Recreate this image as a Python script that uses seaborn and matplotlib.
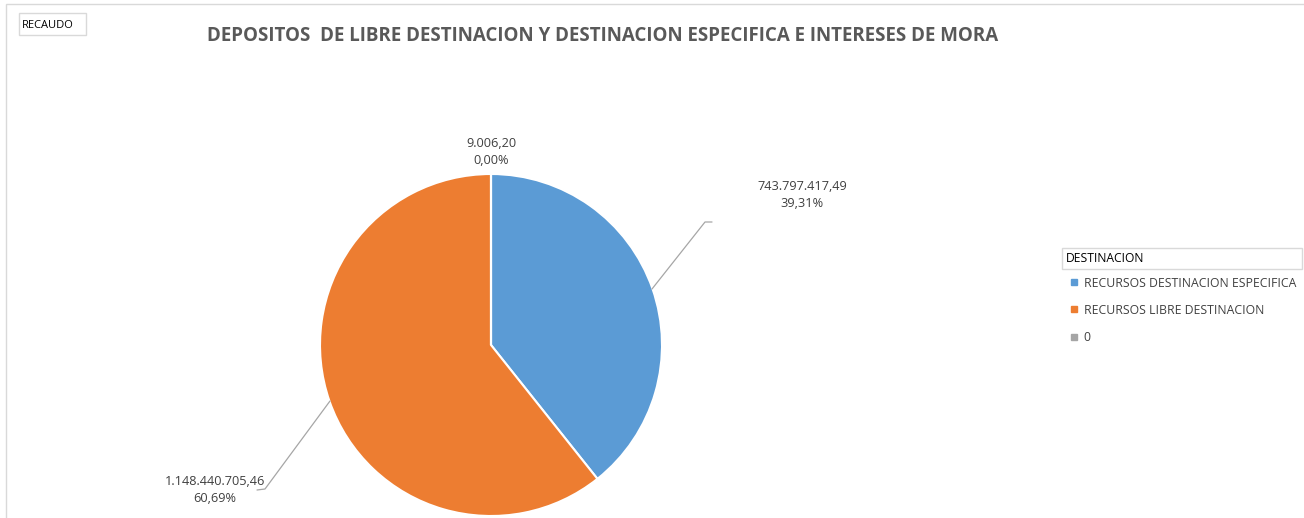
import matplotlib
matplotlib.use("Agg")
import matplotlib.pyplot as plt
import seaborn as sns
from matplotlib.patches import Rectangle
from matplotlib.lines import Line2D

# data
categorias = ["RECURSOS DESTINACION ESPECIFICA", "RECURSOS LIBRE DESTINACION", "0"]
valores = [743797417.49, 1148440705.46, 9006.20]
etiquetas_valor = ["743.797.417,49", "1.148.440.705,46", "9.006,20"]
etiquetas_pct = ["39,31%", "60,69%", "0,00%"]
colores = ["#5B9BD5", "#ED7D31", "#A5A5A5"]

sns.set_theme(style="white")
plt.rcParams["font.family"] = ["Open Sans", "DejaVu Sans"]

W, H = 1304, 518
fig = plt.figure(figsize=(W / 100, H / 100), dpi=100)

# pie axes: centre (491,345) px, radius 171 px
cx, cy, r = 491, 345, 171
ax = fig.add_axes([(cx - r) / W, (H - cy - r) / H, 2 * r / W, 2 * r / H])
wedges, _ = ax.pie(valores, colors=colores, startangle=90, counterclock=False,
                   radius=1, wedgeprops=dict(edgecolor="white", linewidth=1.5))
ax.set_xlim(-1, 1)
ax.set_ylim(-1, 1)
ax.set_aspect("auto")
ax.axis("off")


def px(x, y):
    return ((x - cx) / r, (cy - y) / r)


txt_col = "#404040"
line_col = "#A6A6A6"
# label positions (pixel coordinates of text centres and leader lines)
pos_texto = [(802, 195), (215, 490), (491, 152)]
lineas = [[(652, 289), (705, 222), (712, 222)],
          [(330, 401), (265, 489), (257, 490)],
          None]
for i in range(3):
    tx, ty = px(*pos_texto[i])
    ax.text(tx, ty, etiquetas_valor[i] + "\n" + etiquetas_pct[i], ha="center", va="center",
            fontsize=9.2, color=txt_col, linespacing=1.35, clip_on=False)
    if lineas[i]:
        xs = [px(*p)[0] for p in lineas[i]]
        ys = [px(*p)[1] for p in lineas[i]]
        ax.add_line(Line2D(xs, ys, color=line_col, lw=0.9, clip_on=False))

# outer chart border
fig.patches.append(Rectangle((6 / W, -0.05), 1.1, (H - 4) / H + 0.05, transform=fig.transFigure,
                             fill=False, edgecolor="#D9D9D9", lw=1))

# RECAUDO box
fig.patches.append(Rectangle((19 / W, (H - 35) / H), 67 / W, 22 / H, transform=fig.transFigure,
                             fill=False, edgecolor="#D9D9D9", lw=1))
fig.text(22 / W, (H - 25) / H, "RECAUDO", fontsize=8, color="black", va="center", ha="left")

# title
fig.text(603 / W, (H - 36) / H,
         "DEPOSITOS  DE LIBRE DESTINACION Y DESTINACION ESPECIFICA E INTERESES DE MORA",
         fontsize=13.5, fontweight="bold", color="#595959", ha="center", va="center")

# legend title box
fig.patches.append(Rectangle((1062 / W, (H - 269) / H), 240 / W, 21 / H, transform=fig.transFigure,
                             fill=False, edgecolor="#D9D9D9", lw=1))
fig.text(1066 / W, (H - 258) / H, "DESTINACION", fontsize=8.7, color="black", va="center", ha="left")

handles = [Line2D([0], [0], marker="s", color="none", markerfacecolor=c, markeredgecolor=c,
                  markersize=4.5) for c in colores]
leg = fig.legend(handles, categorias, loc="upper left", bbox_to_anchor=(1067 / W, (H - 273) / H),
                 frameon=False, fontsize=8.8, handlelength=0.6, handletextpad=0.45,
                 labelspacing=1.15, borderaxespad=0, borderpad=0.3)
for t in leg.get_texts():
    t.set_color(txt_col)

fig.savefig("out.png", dpi=100)
